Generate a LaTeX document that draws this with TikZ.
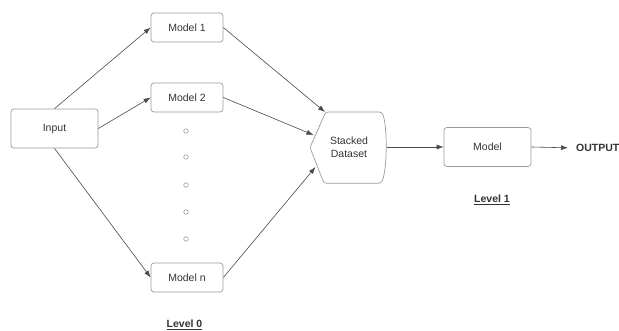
\documentclass[tikz,border=0pt]{standalone}
\usepackage{fontspec}
\setmainfont{Liberation Sans}
\usetikzlibrary{arrows.meta}
\definecolor{boxline}{HTML}{9A9A9A}
\definecolor{arrline}{HTML}{4A4A4A}
\definecolor{txt}{HTML}{333333}
\begin{document}
\begin{tikzpicture}[x=1pt,y=-1pt,
  box/.style={draw=boxline, line width=0.7pt, rounded corners=3pt, minimum width=72pt, minimum height=29pt, inner sep=0pt, font=\fontsize{10.5}{12}\selectfont, text=txt},
  bigbox/.style={box, minimum width=87pt, minimum height=39pt},
  conn/.style={draw=arrline, line width=0.6pt, -{Latex[length=7pt,width=5pt]}},
  dot/.style={circle, draw=boxline, line width=0.6pt, minimum size=4.5pt, inner sep=0pt},
  lvl/.style={font=\fontsize{10.5}{12}\selectfont\bfseries, text=txt, inner sep=0pt}]
\useasboundingbox (0,0) rectangle (619,331);
\node[bigbox] (in) at (54.5,128.5) {Input};
\node[box] (m1) at (187,27.5) {Model 1};
\node[box] (m2) at (187,97.5) {Model 2};
\node[box] (mn) at (187,277.5) {Model n};
\node[dot] (d1) at (186,131) {};
\node[dot] (d2) at (186,157) {};
\node[dot] (d3) at (186,185) {};
\node[dot] (d4) at (186,212) {};
\node[dot] (d5) at (186,239) {};
% stacked dataset shape
\draw[draw=boxline, line width=0.7pt, rounded corners=2.5pt]
  (325.7,112) -- (381.7,112)
  .. controls (387.5,125) and (387.5,170) .. (381,183.3)
  -- (324,183.3) -- (310,147.5) -- cycle;
\node[align=center, font=\fontsize{10.5}{13}\selectfont, text=txt, inner sep=0pt] (sd) at (349,147.5) {Stacked\\Dataset};
\coordinate (sdA) at (325,112);
\coordinate (sdB) at (313.5,135);
\coordinate (sdC) at (315.5,167);
\coordinate (sdR) at (386.7,147);
\node[bigbox] (mdl) at (487.5,147) {Model};
\node[font=\fontsize{10.5}{12}\selectfont\bfseries, text=txt, anchor=west, inner sep=0pt] (out) at (576,148) {OUTPUT};
\node[lvl] (l0) at (184.5,325) {\underline{Level 0}};
\node[lvl] (l1) at (492,200) {\underline{Level 1}};
% connectors
\draw[conn] (in.north) -- (m1.west);
\draw[conn] (in.east) -- (m2.west);
\draw[conn] (in.south) -- (mn.west);
\draw[conn] (m1.east) -- (sdA);
\draw[conn] (m2.east) -- (sdB);
\draw[conn] (mn.east) -- (sdC);
\draw[conn] (sdR) -- (mdl.west);
\draw[conn, shorten >=8pt] (mdl.east) -- (out.west);
\end{tikzpicture}
\end{document}
